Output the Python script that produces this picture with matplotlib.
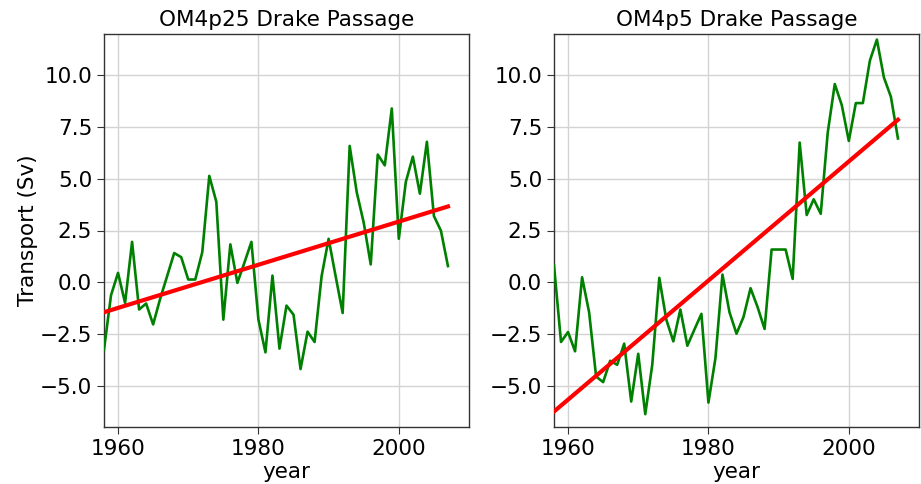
import numpy as np
import matplotlib
matplotlib.use("Agg")
import matplotlib.pyplot as plt

years = list(range(1958, 2008))

om4p25 = [-3.26, -0.63, 0.45, -1.00, 1.95, -1.32, -1.03, -2.04, -0.80, 0.30,
          1.41, 1.21, 0.13, 0.13, 1.45, 5.14, 3.89, -1.81, 1.83, -0.03,
          0.94, 1.95, -1.81, -3.39, 0.32, -3.21, -1.13, -1.57, -4.20, -2.39,
          -2.89, 0.29, 2.10, 0.29, -1.49, 6.59, 4.36, 2.88, 0.86, 6.17,
          5.65, 8.40, 2.10, 4.85, 6.07, 4.28, 6.79, 3.20, 2.49, 0.78]

om4p5 = [0.81, -2.89, -2.41, -3.34, 0.24, -1.45, -4.56, -4.83, -3.80, -3.99,
         -2.97, -5.77, -3.46, -6.38, -3.99, 0.21, -1.81, -2.86, -1.32, -3.07,
         -2.29, -1.53, -5.82, -3.67, 0.37, -1.45, -2.49, -1.68, -0.29, -1.20,
         -2.26, 1.58, 1.58, 1.58, 0.16, 6.75, 3.25, 4.01, 3.31, 7.24,
         9.58, 8.56, 6.83, 8.66, 8.66, 10.71, 11.73, 9.90, 8.96, 6.95]

titles = ["OM4p25 Drake Passage", "OM4p5 Drake Passage"]
series = [om4p25, om4p5]

plt.rcParams["font.family"] = ["DejaVu Sans"]
fig = plt.figure(figsize=(9.21, 4.84), dpi=100)
positions = [[104/921, 1-427/484, (469-104)/921, (427-34)/484],
             [554/921, 1-427/484, (919-554)/921, (427-34)/484]]

for i, (pos, vals, title) in enumerate(zip(positions, series, titles)):
    ax = fig.add_axes(pos)
    x = np.array(years, dtype=float)
    y = np.array(vals)
    ax.plot(x, y, color="green", lw=1.9, zorder=3)
    coef = np.polyfit(x, y, 1)
    ax.plot(x, np.polyval(coef, x), color="red", lw=3.0, zorder=4)
    ax.set_xlim(1958, 2010)
    ax.set_ylim(-7, 12)
    ax.set_xticks([1960, 1980, 2000])
    ax.set_yticks([-5, -2.5, 0, 2.5, 5, 7.5, 10])
    ax.set_yticklabels(["\u22125.0", "\u22122.5", "0.0", "2.5", "5.0", "7.5", "10.0"])
    ax.grid(True, color="#d3d3d3", lw=1.0)
    ax.set_axisbelow(True)
    for s in ax.spines.values():
        s.set_color("#333333")
        s.set_linewidth(1.0)
    ax.tick_params(labelsize=15.5, length=5, color="#333333", top=False, right=False)
    ax.set_title(title, fontsize=15.5, pad=6)
    ax.set_xlabel("year", fontsize=15.5, labelpad=2)
    if i == 0:
        ax.set_ylabel("Transport (Sv)", fontsize=15.5, labelpad=1)

fig.savefig("out.png", dpi=100)
